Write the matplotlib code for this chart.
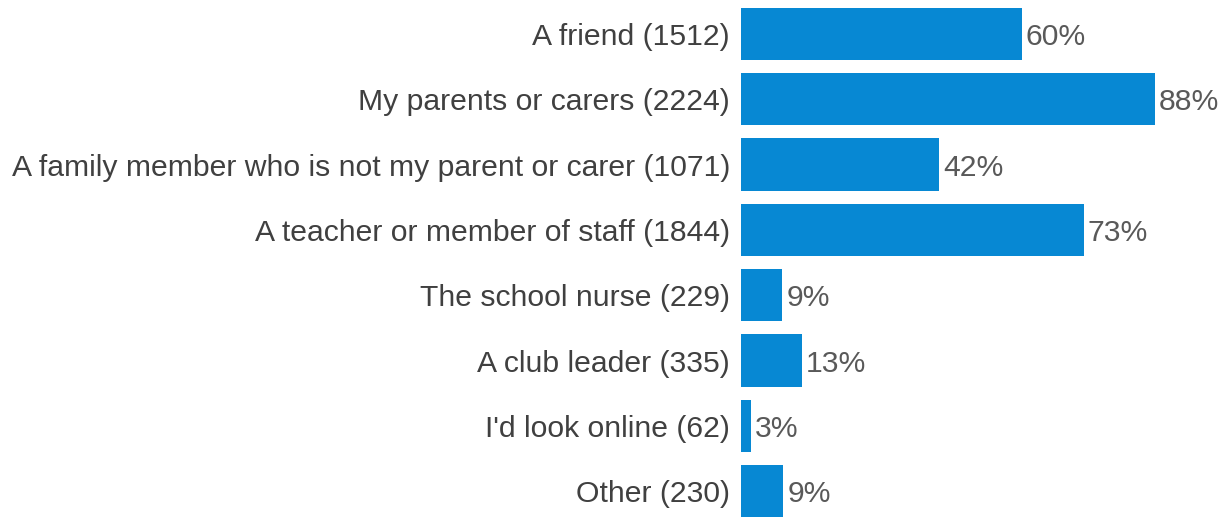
import matplotlib.pyplot as plt

plt.rcParams['font.family'] = ['Liberation Sans', 'DejaVu Sans']

# Dados
categorias = ['A friend (1512)', 'My parents or carers (2224)',
              'A family member who is not my parent or carer (1071)',
              'A teacher or member of staff (1844)', 'The school nurse (229)',
              'A club leader (335)', "I'd look online (62)", 'Other (230)']
valores = [59.7, 88.0, 42.2, 72.9, 8.8, 12.9, 2.0, 8.9]
rotulos = ['60%', '88%', '42%', '73%', '9%', '13%', '3%', '9%']

cor_barra = '#0788D3'

fig = plt.figure(figsize=(12.25, 5.18), dpi=100)
ax = fig.add_axes([0.605, 0.0, 0.395, 1.0])

y = list(range(len(categorias)))
ax.barh(y, valores, height=0.8, color=cor_barra)

# Rotulos de porcentagem
for yi, v, r in zip(y, valores, rotulos):
    ax.text(v + 0.9, yi, r, va='center_baseline', ha='left', fontsize=21.7, color='#595959')

ax.set_yticks(y)
ax.set_yticklabels(categorias, fontsize=21.7, color='#404040')
ax.tick_params(axis='y', length=0, pad=8)
ax.set_xticks([])
ax.set_xlim(0, 103)
ax.set_ylim(7.41, -0.52)
for s in ax.spines.values():
    s.set_visible(False)

fig.savefig('out.png', dpi=100)
